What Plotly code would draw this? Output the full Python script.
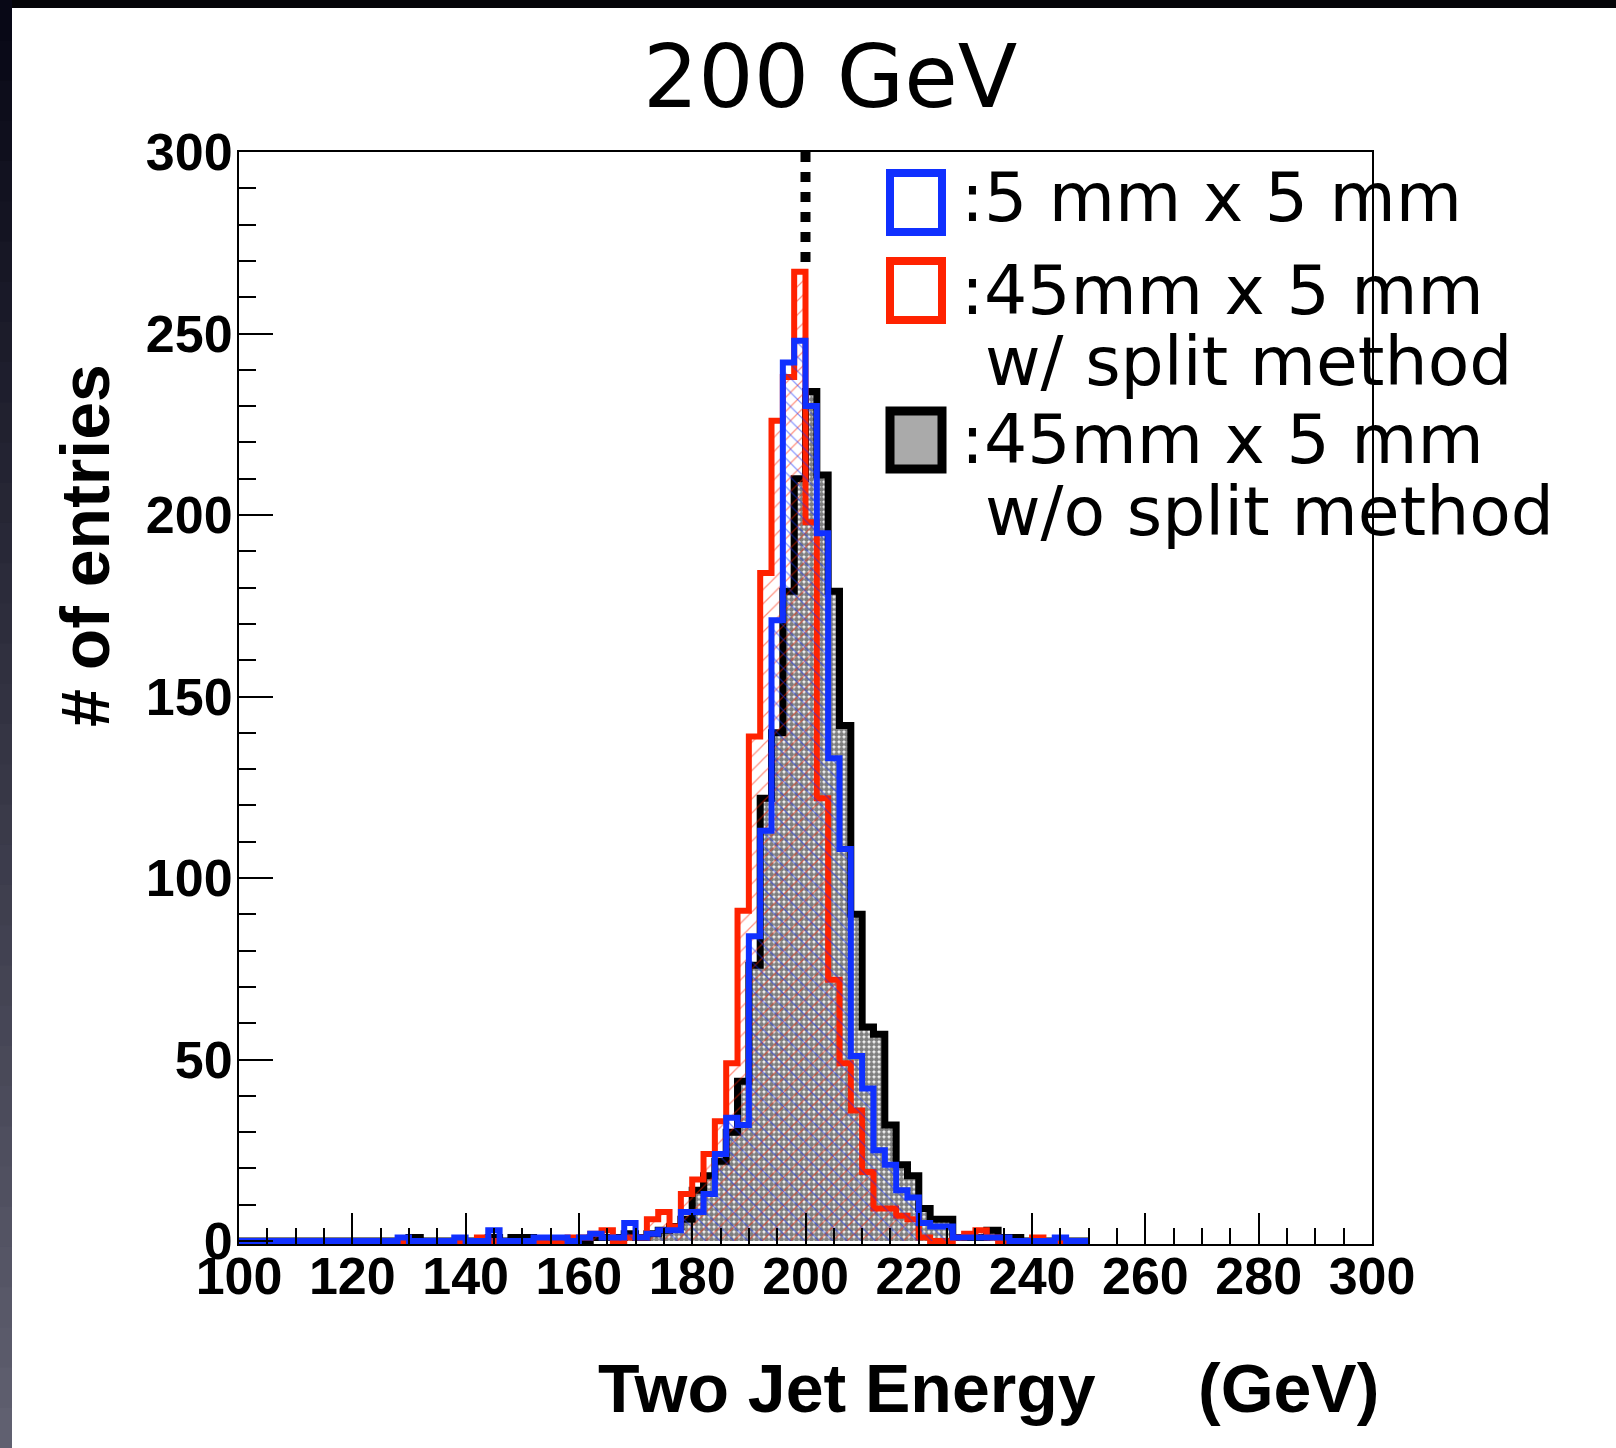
import plotly.graph_objects as go

# ---------------- data (2 GeV bins from 100 to 250 GeV) ----------------
E_MIN, E_MAX, BIN_W = 100, 250, 2
edges = list(range(E_MIN, E_MAX + BIN_W, BIN_W))

blue_5x5 = [0, 0, 0, 0, 0, 0, 0, 0, 0, 0, 0, 0, 0, 0,
            1, 0, 0, 0, 0, 1, 0, 0, 3, 0,
            0, 0, 1, 1, 1, 0, 1, 2, 1, 1,
            5, 1, 2, 3, 3, 8, 8, 13, 24, 34,
            32, 84, 113, 171, 242, 248, 230, 195, 133, 108,
            51, 42, 25, 21, 14, 12, 5, 4, 4, 1,
            1, 1, 1, 1, 0, 0, 0, 0, 1, 0,
            0]

red_45x5_split = [0, 0, 0, 0, 0, 0, 0, 0, 0, 0, 0, 0, 0, 0,
                  0, 0, 0, 0, 0, 0, 0, 1, 0, 0,
                  0, 0, 0, 0, 0, 1, 1, 2, 3, 0,
                  1, 1, 6, 8, 4, 13, 17, 24, 33, 49,
                  91, 139, 184, 226, 238, 267, 198, 122, 72, 49,
                  36, 19, 9, 9, 7, 6, 1, 0, 0, 1,
                  2, 3, 1, 0, 0, 0, 1, 0, 0, 0,
                  0]

black_45x5_nosplit = [0, 0, 0, 0, 0, 0, 0, 0, 0, 0, 0, 0, 0, 0,
                      0, 1, 0, 0, 0, 0, 0, 0, 1, 0,
                      1, 1, 0, 0, 0, 0, 0, 1, 1, 1,
                      2, 1, 2, 3, 4, 6, 14, 18, 22, 30,
                      44, 76, 122, 140, 179, 210, 234, 211, 179, 142,
                      90, 59, 57, 32, 21, 18, 9, 6, 6, 1,
                      1, 1, 3, 1, 1, 0, 0, 0, 0, 0,
                      0]

beam_energy = 200
legend_labels = [":5 mm x 5 mm", ":45mm x 5 mm", "w/ split method",
                 ":45mm x 5 mm", "w/o split method"]
x_ticks = [100, 120, 140, 160, 180, 200, 220, 240, 260, 280, 300]
y_ticks = [0, 50, 100, 150, 200, 250, 300]

# ---------------- geometry helpers ----------------
W, H = 1616, 1448
L, R, T, B = 239, 244, 152, 204
PW, PH = W - L - R, H - T - B


def xp(px):
    return (px - L) / PW


def yp(py):
    return (H - B - py) / PH


def step(vals):
    return vals + [vals[-1]]


BLUE = "#1030ff"
RED = "#ff2200"

fig = go.Figure()

fig.add_trace(go.Scatter(
    x=edges, y=step(black_45x5_nosplit), mode="lines",
    line=dict(color="black", width=7, shape="hv"),
    fill="tozeroy", fillcolor="white",
    fillpattern=dict(shape=".", fgcolor="black", bgcolor="white", size=5, solidity=0.76),
    showlegend=False, hoverinfo="skip"))

fig.add_trace(go.Scatter(
    x=edges, y=step(red_45x5_split), mode="lines",
    line=dict(color=RED, width=6, shape="hv"),
    fill="tozeroy", fillcolor="rgba(0,0,0,0)",
    fillpattern=dict(shape="/", fgcolor=RED, bgcolor="rgba(0,0,0,0)", size=10, solidity=0.12),
    showlegend=False, hoverinfo="skip"))

fig.add_trace(go.Scatter(
    x=edges, y=step(blue_5x5), mode="lines",
    line=dict(color=BLUE, width=6, shape="hv"),
    fill="tozeroy", fillcolor="rgba(0,0,0,0)",
    fillpattern=dict(shape="\\", fgcolor=BLUE, bgcolor="rgba(0,0,0,0)", size=10, solidity=0.12),
    showlegend=False, hoverinfo="skip"))

# dotted beam-energy line from top of frame down to the highest peak
fig.add_trace(go.Scatter(
    x=[beam_energy, beam_energy], y=[300, max(red_45x5_split)], mode="lines",
    line=dict(color="black", width=10, dash="10px,10px"),
    showlegend=False, hoverinfo="skip"))

shapes = []
# dark screen frame: top band and left gradient band
shapes.append(dict(type="rect", xref="paper", yref="paper", x0=xp(0), x1=xp(W),
                   y0=yp(8), y1=yp(0), fillcolor="#050508", line=dict(width=0), layer="above"))
n = 36
for i in range(n):
    t = i / (n - 1)
    c = (int(8 + t * 88), int(8 + t * 88), int(22 + t * 90))
    shapes.append(dict(type="rect", xref="paper", yref="paper", x0=xp(0), x1=xp(12),
                       y0=yp((i + 1) * H / n + 1), y1=yp(i * H / n),
                       fillcolor="rgb(%d,%d,%d)" % c, line=dict(width=0), layer="above"))

# legend boxes
shapes.append(dict(type="rect", xref="paper", yref="paper", x0=xp(890), x1=xp(942),
                   y0=yp(232), y1=yp(173), line=dict(color=BLUE, width=8),
                   fillcolor="white", layer="above"))
shapes.append(dict(type="rect", xref="paper", yref="paper", x0=xp(890), x1=xp(942),
                   y0=yp(320), y1=yp(261), line=dict(color=RED, width=8),
                   fillcolor="white", layer="above"))
shapes.append(dict(type="rect", xref="paper", yref="paper", x0=xp(890), x1=xp(942),
                   y0=yp(469), y1=yp(411), line=dict(color="black", width=9),
                   fillcolor="#aaaaaa", layer="above"))

LEG_FONT = dict(family="DejaVu Sans", size=68, color="black")
legend_pos = [(959, 198), (959, 290), (983, 361), (959, 440), (983, 511)]
annotations = []
for txt, (lx, ly) in zip(legend_labels, legend_pos):
    annotations.append(dict(text=txt, xref="paper", yref="paper", x=xp(lx), y=yp(ly),
                            xanchor="left", yanchor="middle", showarrow=False,
                            font=LEG_FONT))

# title
annotations.append(dict(text="200 GeV", xref="paper", yref="paper", x=xp(830), y=yp(77),
                        xanchor="center", yanchor="middle", showarrow=False,
                        font=dict(family="DejaVu Sans", size=87, color="black")))
# axis titles
AX_FONT = dict(family="Liberation Sans", size=68, color="black")
annotations.append(dict(text="<b># of entries</b>", xref="paper", yref="paper",
                        x=xp(85), y=yp(546), xanchor="center", yanchor="middle",
                        textangle=-90, showarrow=False, font=AX_FONT))
annotations.append(dict(text="<b>Two Jet Energy</b>", xref="paper", yref="paper",
                        x=xp(596), y=yp(1388), xanchor="left", yanchor="middle",
                        showarrow=False, font=AX_FONT))
annotations.append(dict(text="<b>(GeV)</b>", xref="paper", yref="paper",
                        x=xp(1381), y=yp(1388), xanchor="right", yanchor="middle",
                        showarrow=False, font=AX_FONT))

TICK_FONT = dict(family="Liberation Sans", size=52, color="black", weight="bold")

fig.update_layout(
    width=W, height=H,
    margin=dict(l=L, r=R, t=T, b=B, autoexpand=False),
    paper_bgcolor="white", plot_bgcolor="white",
    showlegend=False,
    shapes=shapes, annotations=annotations,
    xaxis=dict(range=[100, 300], tickmode="array", tickvals=x_ticks,
               ticktext=[str(v) for v in x_ticks],
               ticks="inside", ticklen=31, tickwidth=2, tickcolor="black",
               minor=dict(ticks="inside", ticklen=16, dtick=5, tick0=100,
                          tickwidth=2, tickcolor="black"),
               showline=True, linewidth=2, linecolor="black", mirror=True,
               showgrid=False, zeroline=False, tickfont=TICK_FONT,
               ticklabelstandoff=-14),
    yaxis=dict(range=[-0.8, 300], tickmode="array", tickvals=y_ticks,
               ticktext=[str(v) for v in y_ticks],
               ticks="inside", ticklen=34, tickwidth=2, tickcolor="black",
               minor=dict(ticks="inside", ticklen=17, dtick=10, tick0=0,
                          tickwidth=2, tickcolor="black"),
               showline=True, linewidth=2, linecolor="black", mirror=True,
               showgrid=False, zeroline=False, tickfont=TICK_FONT,
               ticklabelstandoff=-6),
)

fig.write_html("out.html", config={"displayModeBar": False},
               post_script="document.body.style.margin='0px';document.body.style.overflow='hidden';")
